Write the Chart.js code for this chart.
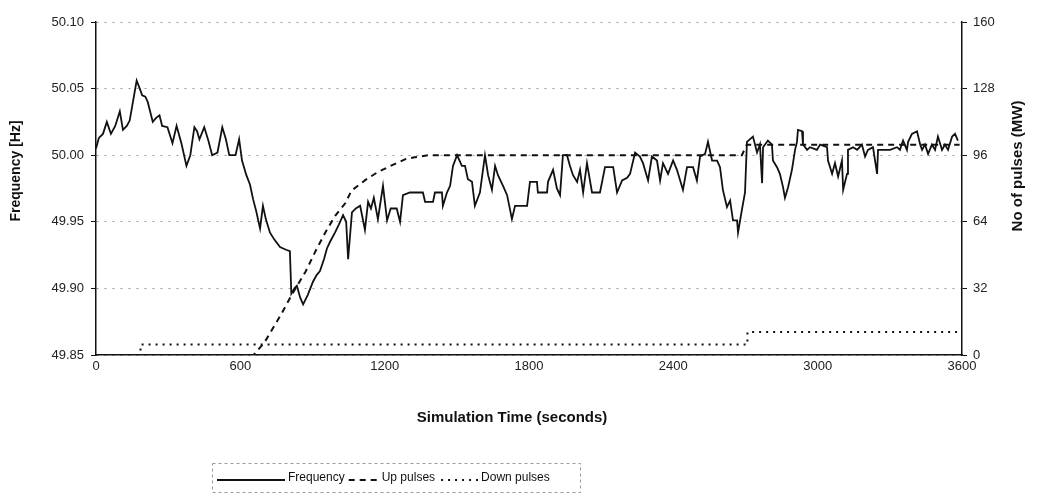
<!DOCTYPE html>
<html lang="en">
<head>
    <meta charset="UTF-8">
    <title>Frequency and pulses</title>
    <style>
        body {
            margin: 0;
            background: #fff;
        }

        .chart-box {
            width: 1037px;
            height: 499px;
        }
    </style>
</head>
<body>
    <div class="chart-box">
        <canvas id="freqChart"></canvas>
    </div>

    <script src="https://cdn.jsdelivr.net/npm/chart.js@4.4.1/dist/chart.umd.min.js"></script>
    <script>
        // frequency trace (seconds, Hz)
        const freqTime = [0, 12, 29, 45, 62, 80, 99, 112, 128, 140, 169, 182, 192, 205, 215, 236, 250, 264, 275, 297,
            318, 335, 355, 376, 392, 409, 420, 430, 450, 467, 483, 505, 525, 540, 554, 580, 595, 607, 625, 640,
            653, 666, 682, 694, 706, 723, 740, 765, 790, 806, 812, 825, 835, 849, 861, 880, 902, 917, 931, 948,
            960, 973, 994, 1010, 1027, 1040, 1048, 1064, 1080, 1098, 1118, 1131, 1143, 1155, 1172, 1193, 1210, 1225, 1250, 1264,
            1276, 1305, 1359, 1368, 1401, 1409, 1438, 1442, 1459, 1472, 1484, 1501, 1521, 1534, 1546, 1563, 1575, 1596, 1617, 1630,
            1646, 1659, 1671, 1692, 1709, 1729, 1742, 1792, 1804, 1833, 1837, 1875, 1879, 1900, 1916, 1929, 1941, 1958, 1970, 1983,
            2000, 2012, 2025, 2041, 2062, 2095, 2116, 2150, 2166, 2187, 2208, 2220, 2241, 2261, 2274, 2295, 2311, 2332, 2345, 2357,
            2378, 2399, 2415, 2440, 2457, 2482, 2498, 2511, 2532, 2544, 2561, 2582, 2594, 2606, 2623, 2636, 2648, 2665, 2669, 2685,
            2698, 2706, 2731, 2748, 2760, 2769, 2773, 2793, 2810, 2814, 2831, 2843, 2856, 2864, 2877, 2893, 2906, 2914, 2918, 2935,
            2939, 2956, 2968, 2997, 3010, 3039, 3043, 3060, 3072, 3085, 3101, 3106, 3122, 3126, 3147, 3164, 3184, 3197, 3209, 3230,
            3247, 3251, 3301, 3330, 3342, 3355, 3371, 3376, 3392, 3413, 3426, 3434, 3446, 3459, 3475, 3488, 3500, 3517, 3529, 3542,
            3559, 3571, 3583];
        const freqHz = [50.005, 50.013, 50.016, 50.025, 50.016, 50.022, 50.033, 50.019, 50.022, 50.026, 50.056, 50.050, 50.045, 50.044, 50.040, 50.025, 50.028, 50.030, 50.022, 50.021,
            50.009, 50.022, 50.009, 49.992, 50.000, 50.021, 50.018, 50.012, 50.021, 50.011, 50.000, 50.002, 50.021, 50.012, 50.000, 50.000, 50.012, 49.996, 49.985, 49.978,
            49.967, 49.958, 49.945, 49.962, 49.952, 49.942, 49.937, 49.931, 49.929, 49.928, 49.896, 49.900, 49.902, 49.893, 49.888, 49.895, 49.905, 49.910, 49.913, 49.922,
            49.930, 49.935, 49.942, 49.948, 49.955, 49.950, 49.922, 49.957, 49.960, 49.962, 49.944, 49.965, 49.960, 49.968, 49.952, 49.977, 49.951, 49.960, 49.960, 49.950,
            49.970, 49.972, 49.972, 49.965, 49.965, 49.972, 49.972, 49.962, 49.972, 49.977, 49.992, 50.000, 49.992, 49.992, 49.982, 49.980, 49.962, 49.972, 50.000, 49.985,
            49.974, 49.992, 49.985, 49.977, 49.970, 49.952, 49.962, 49.962, 49.980, 49.980, 49.972, 49.972, 49.980, 49.989, 49.975, 49.970, 50.000, 50.000, 49.992, 49.985,
            49.980, 49.989, 49.972, 49.994, 49.972, 49.972, 49.991, 49.991, 49.972, 49.981, 49.983, 49.986, 50.002, 49.999, 49.994, 49.981, 49.999, 49.996, 49.981, 49.994,
            49.986, 49.996, 49.989, 49.974, 49.991, 49.991, 49.981, 49.999, 50.001, 50.010, 49.996, 49.996, 49.991, 49.974, 49.961, 49.966, 49.951, 49.951, 49.942, 49.959,
            49.972, 50.010, 50.014, 50.002, 50.008, 49.979, 50.006, 50.011, 50.008, 49.996, 49.991, 49.986, 49.976, 49.968, 49.976, 49.989, 50.004, 50.010, 50.019, 50.018,
            50.008, 50.004, 50.006, 50.004, 50.008, 50.006, 49.996, 49.986, 49.994, 49.984, 49.996, 49.974, 49.986, 50.004, 50.006, 50.004, 50.008, 49.999, 50.004, 50.006,
            49.986, 50.004, 50.004, 50.006, 50.004, 50.011, 50.004, 50.010, 50.016, 50.018, 50.008, 50.004, 50.008, 50.001, 50.008, 50.004, 50.014, 50.004, 50.008, 50.004,
            50.014, 50.016, 50.011];

        // up pulses (MW)
        const upTime = [0, 655, 700, 731, 772, 814, 871, 913, 954, 995, 1037, 1062, 1119, 1173, 1227, 1284, 1325, 1380, 2685, 2705, 3590];
        const upPulses = [0, 0, 6, 12, 20, 29, 40, 50, 59, 67, 73, 79, 84, 88, 91, 94, 95, 96, 96, 101, 101];

        // down pulses (MW)
        const downTime = [0, 185, 185, 2708, 2708, 3590];
        const downPulses = [0, 0, 5, 5, 11, 11];

        const xTitle = "Simulation Time (seconds)";
        const yTitle = "Frequency [Hz]";
        const y1Title = "No of pulses (MW)";

        const toPoints = (xs, ys) => xs.map((x, i) => ({ x: x, y: ys[i] }));

        // axis titles drawn by hand so they sit where the original has them
        const titlePlugin = {
            id: "axisTitles",
            afterDraw(chart) {
                const ctx = chart.ctx;
                ctx.save();
                ctx.fillStyle = "#111";
                ctx.textAlign = "center";
                ctx.textBaseline = "middle";

                ctx.font = "bold 15px 'Liberation Sans', Arial, sans-serif";
                ctx.fillText(xTitle, 512, 418);

                ctx.save();
                ctx.translate(16, 171);
                ctx.rotate(-Math.PI / 2);
                ctx.font = "bold 14px 'Liberation Sans', Arial, sans-serif";
                ctx.fillText(yTitle, 0, 0);
                ctx.restore();

                ctx.save();
                ctx.translate(1018, 166);
                ctx.rotate(-Math.PI / 2);
                ctx.font = "bold 15px 'Liberation Sans', Arial, sans-serif";
                ctx.fillText(y1Title, 0, 0);
                ctx.restore();

                ctx.restore();
            },
        };

        // boxed legend under the chart, line samples take the dataset styles
        const legendPlugin = {
            id: "boxLegend",
            afterDraw(chart) {
                const ctx = chart.ctx;
                const sampleW = [68, 30, 37];
                const gaps = [4, 6, 0];
                const y = 480;
                let x = 217;

                ctx.save();
                ctx.strokeStyle = "#999";
                ctx.lineWidth = 1;
                ctx.setLineDash([3, 3]);
                ctx.strokeRect(212.5, 463.5, 368, 29);

                ctx.font = "12px 'Liberation Sans', Arial, sans-serif";
                ctx.textBaseline = "middle";
                ctx.textAlign = "left";
                chart.data.datasets.forEach((ds, i) => {
                    ctx.strokeStyle = ds.borderColor;
                    ctx.lineWidth = ds.borderWidth;
                    ctx.setLineDash(ds.borderDash || []);
                    ctx.beginPath();
                    ctx.moveTo(x, y);
                    ctx.lineTo(x + sampleW[i], y);
                    ctx.stroke();
                    x += sampleW[i] + 3;
                    ctx.fillStyle = "#111";
                    ctx.fillText(ds.label, x, y - 2);
                    x += ctx.measureText(ds.label).width + gaps[i];
                });
                ctx.restore();
            },
        };

        const tickFont = { family: "'Liberation Sans', Arial, sans-serif", size: 13 };

        new Chart(document.getElementById("freqChart"), {
            type: "line",
            data: {
                datasets: [
                    {
                        label: "Frequency",
                        data: toPoints(freqTime, freqHz),
                        yAxisID: "y",
                        borderColor: "#111",
                        borderWidth: 1.8,
                        pointRadius: 0,
                        tension: 0,
                    },
                    {
                        label: "Up pulses",
                        data: toPoints(upTime, upPulses),
                        yAxisID: "y1",
                        borderColor: "#111",
                        borderWidth: 2,
                        borderDash: [6, 5],
                        pointRadius: 0,
                        tension: 0,
                    },
                    {
                        label: "Down pulses",
                        data: toPoints(downTime, downPulses),
                        yAxisID: "y1",
                        borderColor: "#111",
                        borderWidth: 2,
                        borderDash: [2, 5],
                        pointRadius: 0,
                        tension: 0,
                    },
                ],
            },
            options: {
                responsive: true,
                maintainAspectRatio: false,
                animation: false,
                layout: {
                    padding: { top: 22, right: 0, bottom: 74, left: 0 },
                },
                plugins: {
                    legend: { display: false },
                    tooltip: { enabled: false },
                },
                scales: {
                    x: {
                        type: "linear",
                        min: 0,
                        max: 3600,
                        ticks: {
                            stepSize: 600,
                            padding: 4,
                            color: "#222",
                            font: tickFont,
                            maxRotation: 0,
                            callback: (v) => String(v),
                        },
                        grid: { drawOnChartArea: false, drawTicks: false },
                        border: { color: "#111", width: 1.5 },
                        afterFit: (s) => { s.height = 70; },
                    },
                    y: {
                        position: "left",
                        min: 49.85,
                        max: 50.10,
                        ticks: {
                            stepSize: 0.05,
                            padding: 7,
                            color: "#222",
                            font: tickFont,
                            callback: (v) => v.toFixed(2),
                        },
                        grid: {
                            color: "#9a9a9a",
                            tickColor: "#111",
                            tickLength: 5,
                        },
                        border: { color: "#111", width: 1.5, dash: [2, 6] },
                        afterFit: (s) => { s.width = 96; },
                    },
                    y1: {
                        position: "right",
                        min: 0,
                        max: 160,
                        ticks: {
                            stepSize: 32,
                            padding: 6,
                            color: "#222",
                            font: tickFont,
                        },
                        grid: {
                            drawOnChartArea: false,
                            tickColor: "#111",
                            tickLength: 5,
                        },
                        border: { color: "#111", width: 1.5 },
                        afterFit: (s) => { s.width = 75; },
                    },
                },
            },
            plugins: [titlePlugin, legendPlugin],
        });
    </script>
</body>
</html>
